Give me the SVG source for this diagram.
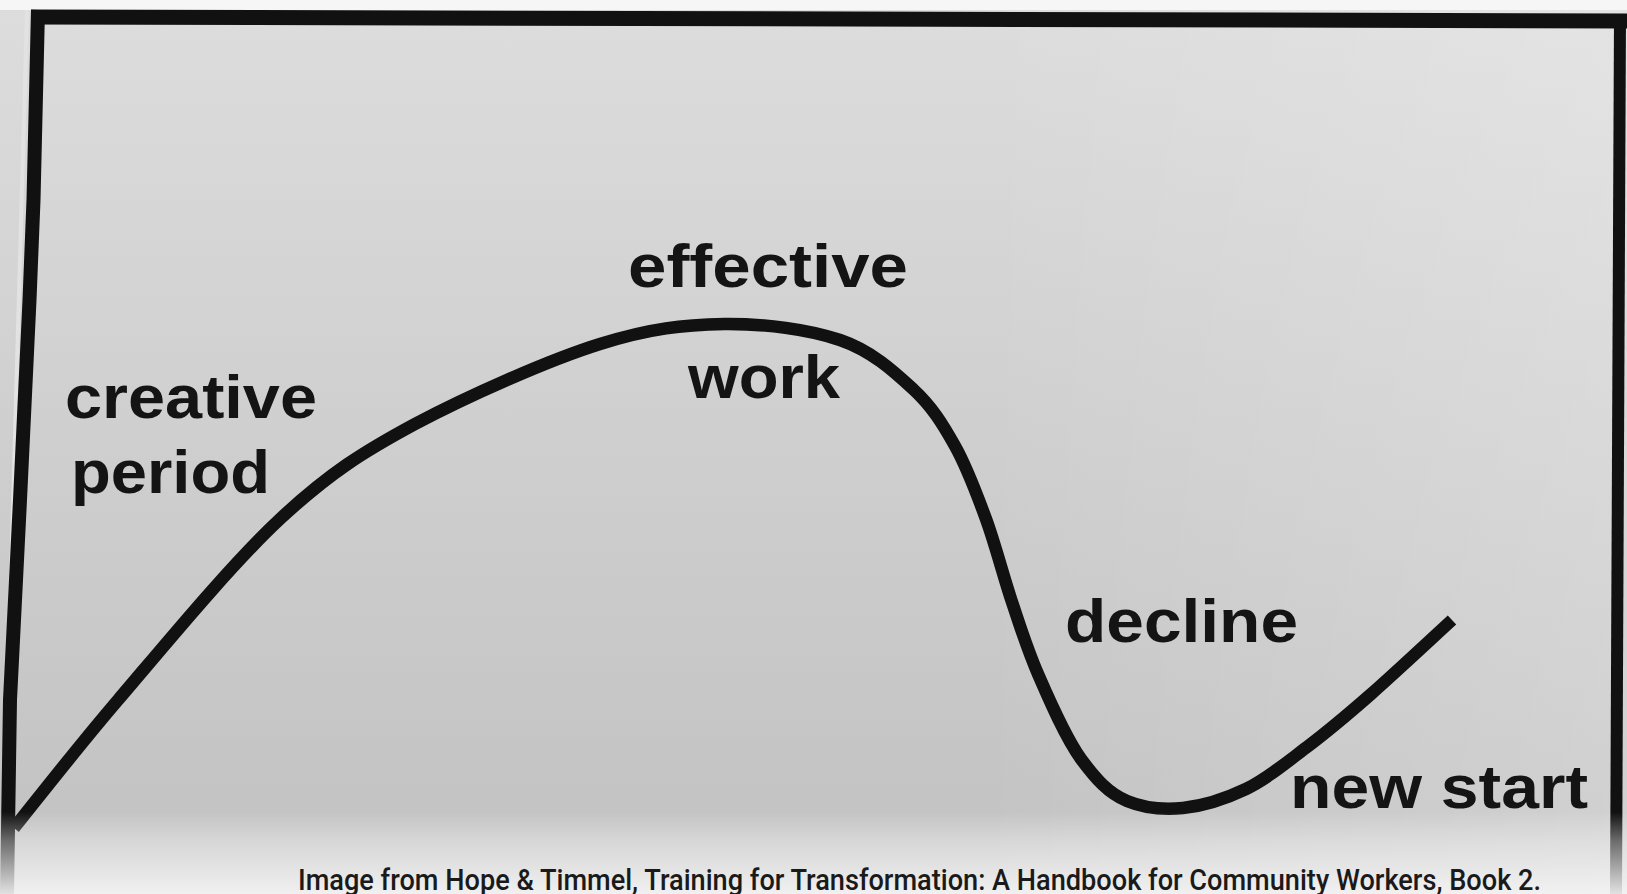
<svg xmlns="http://www.w3.org/2000/svg" width="1627" height="894" viewBox="0 0 1627 894">
  <defs>
    <linearGradient id="paper" x1="0" y1="0" x2="0" y2="1">
      <stop offset="0" stop-color="#dddddd"/>
      <stop offset="0.45" stop-color="#d0d0d0"/>
      <stop offset="0.85" stop-color="#c5c5c5"/>
      <stop offset="1" stop-color="#c2c2c2"/>
    </linearGradient>
    <linearGradient id="sideLight" x1="0" y1="0" x2="1" y2="0">
      <stop offset="0" stop-color="#ffffff" stop-opacity="0"/>
      <stop offset="0.6" stop-color="#ffffff" stop-opacity="0"/>
      <stop offset="1" stop-color="#ffffff" stop-opacity="0.22"/>
    </linearGradient>
    <linearGradient id="fade" x1="0" y1="0" x2="0" y2="1">
      <stop offset="0" stop-color="#f4f4f4" stop-opacity="0"/>
      <stop offset="0.35" stop-color="#f4f4f4" stop-opacity="0.4"/>
      <stop offset="1" stop-color="#f4f4f4" stop-opacity="0.92"/>
    </linearGradient>
    <style>
      .ink { fill: none; stroke: #111; }
      .label { font-family: "Liberation Sans", Arial, sans-serif; font-weight: bold; font-size: 62px; fill: #141414; }
      .caption { font-family: Roboto, "Noto Sans", sans-serif; font-weight: 500; font-size: 29px; fill: #1a1a1a; }
    </style>
  </defs>

  <!-- paper -->
  <rect x="0" y="0" width="1627" height="894" fill="url(#paper)"/>
  <rect x="0" y="0" width="1627" height="894" fill="url(#sideLight)"/>
  <rect x="0" y="0" width="1627" height="10" fill="#f6f6f6"/>
  <line x1="27" y1="10" x2="2" y2="894" stroke="#e2e2e2" stroke-width="4"/>

  <!-- frame -->
  <g id="frame">
    <path class="ink" stroke-width="15" d="M31,17 L1627,21"/>
    <path class="ink" stroke-width="14" d="M38,10 L33.5,200 L29.5,300 L20,500 L10,700 L7,894"/>
    <path class="ink" stroke-width="12" d="M1620,14 L1616,894"/>
  </g>

  <!-- curve -->
  <g id="connectors">
    <path id="curve" class="ink" stroke-width="12.5" stroke-linejoin="round" d="M14,828 C31.3,806.7 73.7,751.8 118,700 C162.3,648.2 230.5,565 280,519 C329.5,473 363,452 415,424 C468,396 548.7,360 600,344 C651.3,328 683,325 725,324 C765,323.7 808.3,329.2 840,340 C871.7,350.8 893.8,371.3 913,389 C932.2,406.7 942.8,424.3 955,446 C967.2,467.7 976.5,493 986,519 C995.5,545 1003.3,576.2 1012,602 C1020.7,627.8 1026.8,648.2 1038,674 C1049.2,699.8 1065.2,737 1081,759 C1096,779 1108,793 1127,801 C1145,808.5 1163,810 1183,808 C1203,806 1225,799 1246,789 C1267,778.8 1286.2,762.7 1307,747 C1327.8,731.3 1345.8,716.2 1370,695 C1394.2,673.8 1438.3,632.5 1452,620"/>
  </g>

  <!-- labels -->
  <g id="label-effective"><text class="label" x="628" y="287" textLength="280" lengthAdjust="spacingAndGlyphs">effective</text></g>
  <g id="label-work"><text class="label" x="688" y="398" textLength="152" lengthAdjust="spacingAndGlyphs">work</text></g>
  <g id="label-creative"><text class="label" x="65" y="418" textLength="252" lengthAdjust="spacingAndGlyphs">creative</text></g>
  <g id="label-period"><text class="label" x="71" y="493" textLength="199" lengthAdjust="spacingAndGlyphs">period</text></g>
  <g id="label-decline"><text class="label" x="1065" y="642" textLength="233" lengthAdjust="spacingAndGlyphs">decline</text></g>
  <g id="label-new-start"><text class="label" x="1290" y="808" textLength="298" lengthAdjust="spacingAndGlyphs">new start</text></g>

  <!-- bottom fade -->
  <rect x="0" y="812" width="1627" height="82" fill="url(#fade)"/>

  <g id="caption"><text class="caption" x="298" y="890" textLength="1243" lengthAdjust="spacingAndGlyphs">Image from Hope &amp; Timmel, Training for Transformation: A Handbook for Community Workers, Book 2.</text></g>
</svg>
